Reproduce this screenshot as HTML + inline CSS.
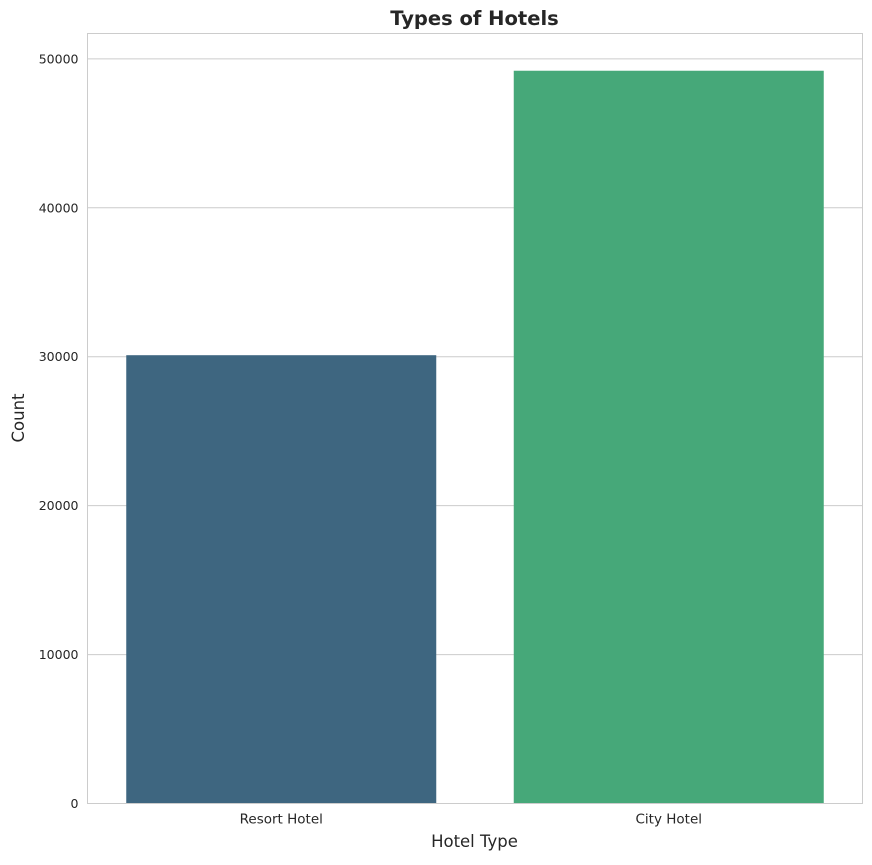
<!DOCTYPE html>
<html><head><meta charset="utf-8"><style>
body{margin:0;background:#fff;}
svg text{font-family:"DejaVu Sans","Liberation Sans",sans-serif;fill:#262626;}
</style></head><body>
<svg id="chart" width="872" height="860">
<text x="474.5" y="25" text-anchor="middle" font-size="19.5" font-weight="bold">Types of Hotels</text>
<g id="grid"></g>
<g id="bars"></g>
<rect x="87.5" y="33.5" width="775" height="770" fill="none" stroke="#cccccc" stroke-width="1"/>
<g id="yticks"></g>
<g id="xticks"></g>
<text x="474.5" y="847" text-anchor="middle" font-size="16.5">Hotel Type</text>
<text transform="translate(24,418) rotate(-90)" text-anchor="middle" font-size="16.5">Count</text>
</svg>
<script>
const categories=["Resort Hotel","City Hotel"];
const counts=[30100,49200];
const colors=["#3e6680","#46a879"];
const yTicks=[0,10000,20000,30000,40000,50000];
const L=87.5,R=862.5,T=33.5,B=803.5;
const ymax=51700;
const y=v=>B-(v/ymax)*(B-T);
const band=(R-L)/categories.length;
const NS="http://www.w3.org/2000/svg";
const mk=(t,a)=>{const e=document.createElementNS(NS,t);for(const k in a)e.setAttribute(k,a[k]);return e;};
const grid=document.getElementById('grid'),yt=document.getElementById('yticks'),xt=document.getElementById('xticks'),bars=document.getElementById('bars');
yTicks.forEach(v=>{
 const ln=mk('line',{x1:L,x2:R,y1:y(v),y2:y(v),stroke:'#cccccc','stroke-width':1});
 
 
 grid.appendChild(ln);
 const t=mk('text',{x:L-9,y:y(v)+4.5,'text-anchor':'end','font-size':12.5});
 t.textContent=v;
 
 
 yt.appendChild(t);
});
categories.forEach((c,i)=>{
 const cx=L+band*(i+0.5),w=band*0.8;
 const r=mk('rect',{x:cx-w/2,y:y(counts[i]),width:w,height:B-y(counts[i]),fill:colors[i]});
 
 
 bars.appendChild(r);
 const t=mk('text',{x:cx,y:B+20,'text-anchor':'middle','font-size':13.5});
 t.textContent=c;
 
 
 xt.appendChild(t);
});
</script>
</body></html>
